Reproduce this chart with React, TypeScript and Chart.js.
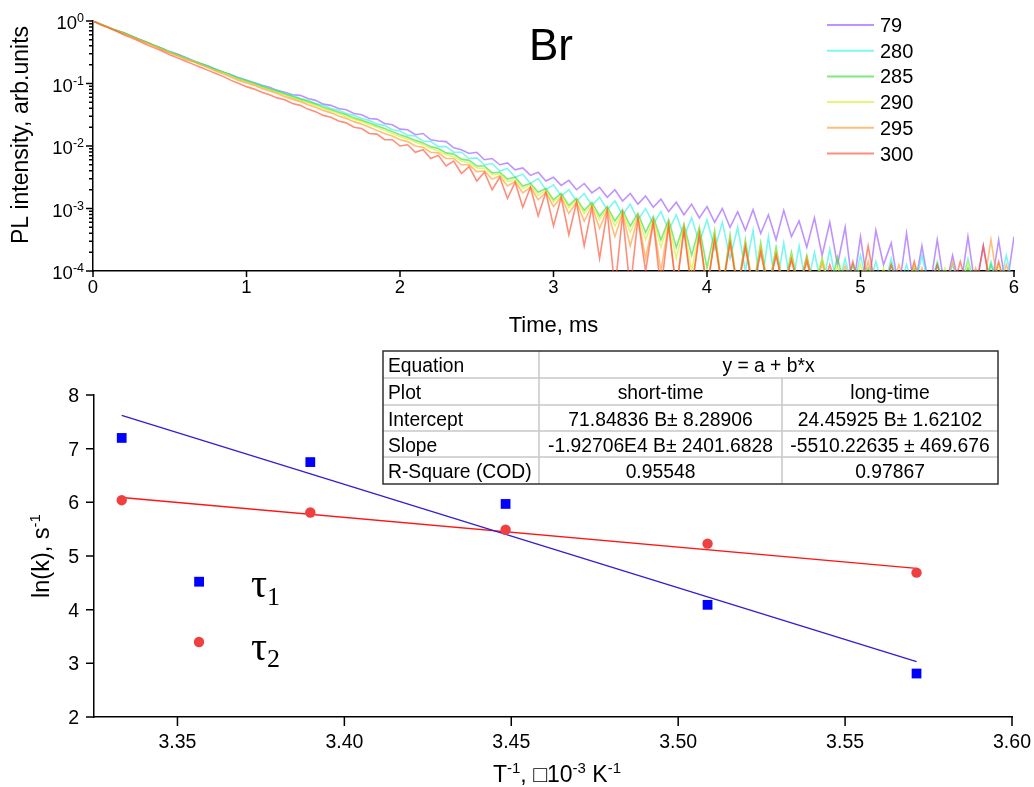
import React, { useEffect, useRef } from 'react';
import { Chart, registerables } from 'chart.js';

Chart.register(...registerables);

const SANS = '"Liberation Sans", Arial, Helvetica, sans-serif';
const SERIF = '"Liberation Serif", "Times New Roman", serif';

// ---------- top panel: PL decay (values are log10 of intensity) ----------
const timeMs = [
  0, 0.05, 0.1, 0.15, 0.2, 0.25, 0.3, 0.35, 0.4, 0.45,
  0.5, 0.55, 0.6, 0.65, 0.7, 0.75, 0.8, 0.85, 0.9, 0.95,
  1.0, 1.05, 1.1, 1.15, 1.2, 1.25, 1.3, 1.35, 1.4, 1.45,
  1.5, 1.55, 1.6, 1.65, 1.7, 1.75, 1.8, 1.85, 1.9, 1.95,
  2.0, 2.05, 2.1, 2.15, 2.2, 2.25, 2.3, 2.35, 2.4, 2.45,
  2.5, 2.55, 2.6, 2.65, 2.7, 2.75, 2.8, 2.85, 2.9, 2.95,
  3.0, 3.05, 3.1, 3.15, 3.2, 3.25, 3.3, 3.35, 3.4, 3.45,
  3.5, 3.55, 3.6, 3.65, 3.7, 3.75, 3.8, 3.85, 3.9, 3.95,
  4.0, 4.05, 4.1, 4.15, 4.2, 4.25, 4.3, 4.35, 4.4, 4.45,
  4.5, 4.55, 4.6, 4.65, 4.7, 4.75, 4.8, 4.85, 4.9, 4.95,
  5.0, 5.05, 5.1, 5.15, 5.2, 5.25, 5.3, 5.35, 5.4, 5.45,
  5.5, 5.55, 5.6, 5.65, 5.7, 5.75, 5.8, 5.85, 5.9, 5.95,
  6.0,
];

const log10PL_79 = [
  0, -0.05, -0.10, -0.15, -0.19, -0.24, -0.29, -0.34, -0.39, -0.44,
  -0.49, -0.53, -0.58, -0.63, -0.68, -0.72, -0.77, -0.82, -0.86, -0.91,
  -0.95, -0.99, -1.03, -1.06, -1.11, -1.14, -1.18, -1.19, -1.24, -1.27,
  -1.33, -1.35, -1.40, -1.42, -1.48, -1.50, -1.56, -1.57, -1.64, -1.66,
  -1.73, -1.74, -1.82, -1.80, -1.90, -1.92, -1.93, -2.03, -2.06, -2.12,
  -2.10, -2.22, -2.20, -2.30, -2.27, -2.38, -2.35, -2.47, -2.42, -2.56,
  -2.50, -2.63, -2.55, -2.70, -2.60, -2.75, -2.66, -2.82, -2.70, -2.88,
  -2.76, -2.93, -2.80, -2.98, -2.85, -3.05, -2.90, -3.10, -2.93, -3.15,
  -2.97, -3.22, -3.00, -3.30, -3.05, -3.35, -3.02, -3.40, -3.10, -3.50,
  -3.03, -3.45, -3.20, -3.62, -3.15, -3.75, -3.22, -3.90, -3.30, -4.3,
  -3.45, -4.3, -3.35, -3.90, -3.55, -4.3, -3.40, -4.3, -3.60, -4.3,
  -3.50, -4.3, -3.75, -4.3, -3.45, -4.3, -3.60, -4.3, -3.50, -4.3,
  -3.45,
];

const log10PL_280 = [
  0, -0.05, -0.10, -0.15, -0.19, -0.24, -0.29, -0.34, -0.39, -0.44,
  -0.49, -0.54, -0.58, -0.63, -0.68, -0.72, -0.77, -0.82, -0.86, -0.91,
  -0.95, -0.99, -1.03, -1.08, -1.11, -1.16, -1.19, -1.24, -1.27, -1.32,
  -1.35, -1.40, -1.43, -1.48, -1.51, -1.56, -1.59, -1.65, -1.67, -1.74,
  -1.76, -1.83, -1.84, -1.92, -1.93, -2.01, -2.01, -2.10, -2.10, -2.20,
  -2.19, -2.30, -2.28, -2.40, -2.36, -2.50, -2.45, -2.60, -2.52, -2.70,
  -2.62, -2.80, -2.70, -2.88, -2.76, -2.95, -2.82, -3.02, -2.88, -3.10,
  -2.93, -3.18, -3.00, -3.25, -3.05, -3.35, -3.10, -3.45, -3.15, -3.55,
  -3.18, -3.65, -3.22, -3.80, -3.30, -4.0, -3.35, -4.3, -3.45, -4.3,
  -3.55, -4.3, -3.60, -4.3, -3.70, -4.3, -3.65, -4.3, -3.80, -4.3,
  -3.75, -4.3, -3.85, -4.3, -3.80, -4.3, -3.90, -4.3, -3.75, -4.3,
  -3.85, -4.3, -3.90, -4.3, -3.80, -4.3, -4.3, -3.85, -4.3, -3.75,
  -4.3,
];

const log10PL_285 = [
  0, -0.05, -0.10, -0.15, -0.19, -0.24, -0.29, -0.34, -0.39, -0.44,
  -0.50, -0.54, -0.59, -0.64, -0.68, -0.73, -0.78, -0.82, -0.87, -0.92,
  -0.96, -1.00, -1.05, -1.09, -1.13, -1.17, -1.21, -1.25, -1.29, -1.33,
  -1.38, -1.42, -1.46, -1.50, -1.55, -1.59, -1.63, -1.68, -1.72, -1.77,
  -1.82, -1.86, -1.91, -1.95, -2.01, -2.04, -2.11, -2.13, -2.21, -2.23,
  -2.32, -2.32, -2.43, -2.42, -2.53, -2.50, -2.64, -2.60, -2.74, -2.68,
  -2.86, -2.76, -2.95, -2.84, -3.03, -2.90, -3.12, -2.97, -3.20, -3.02,
  -3.28, -3.08, -3.38, -3.13, -3.50, -3.18, -3.62, -3.25, -3.75, -3.30,
  -3.95, -3.35, -4.3, -3.42, -4.3, -3.50, -4.3, -3.55, -4.3, -3.62,
  -4.3, -3.70, -4.3, -3.75, -4.3, -3.80, -4.3, -3.78, -4.3, -3.90,
  -4.3, -3.95, -4.3, -4.3, -3.90, -4.3, -4.3, -3.95, -4.3, -4.3,
  -3.90, -4.3, -4.3, -4.3, -3.95, -4.3, -4.3, -3.90, -4.3, -4.3,
  -4.3,
];

const log10PL_290 = [
  0, -0.05, -0.10, -0.15, -0.20, -0.25, -0.30, -0.35, -0.40, -0.45,
  -0.50, -0.55, -0.60, -0.64, -0.69, -0.74, -0.79, -0.83, -0.88, -0.93,
  -0.97, -1.01, -1.06, -1.10, -1.14, -1.18, -1.23, -1.27, -1.31, -1.35,
  -1.40, -1.44, -1.48, -1.53, -1.57, -1.61, -1.66, -1.70, -1.75, -1.80,
  -1.85, -1.89, -1.94, -1.98, -2.04, -2.08, -2.14, -2.17, -2.24, -2.27,
  -2.35, -2.36, -2.46, -2.45, -2.57, -2.54, -2.68, -2.63, -2.79, -2.71,
  -2.90, -2.79, -2.99, -2.86, -3.08, -2.93, -3.18, -3.00, -3.28, -3.06,
  -3.38, -3.12, -3.50, -3.17, -3.62, -3.22, -3.80, -3.28, -4.0, -3.34,
  -4.3, -3.40, -4.3, -3.48, -4.3, -3.55, -4.3, -3.60, -4.3, -3.68,
  -4.3, -3.75, -4.3, -3.82, -4.3, -3.80, -4.3, -3.92, -4.3, -4.3,
  -3.90, -4.3, -4.3, -3.95, -4.3, -4.3, -4.3, -3.90, -4.3, -4.3,
  -4.3, -3.95, -4.3, -4.3, -3.85, -4.3, -4.3, -4.3, -3.90, -4.3,
  -4.3,
];

const log10PL_295 = [
  0, -0.05, -0.10, -0.15, -0.20, -0.25, -0.30, -0.35, -0.40, -0.46,
  -0.51, -0.56, -0.61, -0.65, -0.70, -0.75, -0.80, -0.85, -0.90, -0.95,
  -0.99, -1.03, -1.08, -1.12, -1.16, -1.21, -1.25, -1.29, -1.34, -1.38,
  -1.43, -1.47, -1.52, -1.56, -1.61, -1.65, -1.70, -1.75, -1.80, -1.84,
  -1.90, -1.93, -2.00, -2.02, -2.10, -2.11, -2.20, -2.20, -2.30, -2.30,
  -2.41, -2.40, -2.53, -2.48, -2.64, -2.57, -2.75, -2.66, -2.86, -2.74,
  -2.97, -2.82, -3.08, -2.90, -3.20, -2.96, -3.32, -3.02, -3.45, -3.08,
  -3.60, -3.14, -3.80, -3.20, -4.0, -3.25, -4.3, -3.30, -4.3, -3.38,
  -4.3, -3.45, -4.3, -3.52, -4.3, -3.58, -4.3, -3.65, -4.3, -3.72,
  -4.3, -3.80, -4.3, -3.78, -4.3, -3.88, -4.3, -4.3, -3.92, -4.3,
  -4.3, -3.85, -4.3, -4.3, -4.3, -3.90, -4.3, -4.3, -3.95, -4.3,
  -4.3, -4.3, -3.85, -4.3, -4.3, -3.95, -4.3, -3.50, -4.3, -3.90,
  -4.3,
];

const log10PL_300 = [
  0, -0.06, -0.11, -0.16, -0.22, -0.27, -0.32, -0.38, -0.43, -0.48,
  -0.54, -0.59, -0.64, -0.69, -0.74, -0.79, -0.84, -0.89, -0.95, -1.00,
  -1.05, -1.09, -1.14, -1.18, -1.23, -1.26, -1.32, -1.35, -1.41, -1.45,
  -1.51, -1.54, -1.60, -1.63, -1.70, -1.72, -1.80, -1.81, -1.90, -1.90,
  -2.00, -1.98, -2.10, -2.06, -2.20, -2.15, -2.32, -2.24, -2.44, -2.33,
  -2.56, -2.42, -2.70, -2.50, -2.84, -2.58, -2.98, -2.66, -3.12, -2.74,
  -3.28, -2.82, -3.42, -2.90, -3.60, -2.98, -3.80, -3.04, -4.3, -3.10,
  -4.3, -3.16, -4.0, -3.22, -4.3, -3.28, -4.3, -3.35, -4.3, -3.42,
  -4.3, -3.50, -4.3, -3.55, -4.3, -3.62, -4.3, -3.70, -4.3, -3.75,
  -4.3, -3.82, -4.3, -3.85, -4.3, -4.3, -3.90, -4.3, -4.3, -3.85,
  -4.3, -3.60, -4.3, -4.3, -3.90, -4.3, -4.3, -3.85, -4.3, -4.3,
  -3.90, -4.3, -4.3, -3.85, -4.3, -4.3, -3.60, -4.3, -3.85, -4.3,
  -4.3,
];

const seriesNames = ['79', '280', '285', '290', '295', '300'];
const seriesLogValues = [log10PL_79, log10PL_280, log10PL_285, log10PL_290, log10PL_295, log10PL_300];
const seriesColors = [
  'rgba(150,80,255,0.62)',
  'rgba(40,240,230,0.6)',
  'rgba(40,220,40,0.6)',
  'rgba(210,240,30,0.6)',
  'rgba(255,150,40,0.62)',
  'rgba(255,80,50,0.65)',
];

const topXTicks = [0, 1, 2, 3, 4, 5, 6];
const topYExponents = [0, -1, -2, -3, -4];

// ---------- bottom panel: Arrhenius plot ----------
const invT = [3.3333, 3.3898, 3.4483, 3.5088, 3.5714];
const lnK_tau1 = [7.20, 6.75, 5.97, 4.09, 2.81];
const lnK_tau2 = [6.04, 5.81, 5.49, 5.23, 4.69];
const fitInvT = [3.3333, 3.5714];
const fitShortTime = [7.62, 3.03];
const fitLongTime = [6.09, 4.77];
const bottomXTicks = [3.35, 3.40, 3.45, 3.50, 3.55, 3.60];
const bottomYTicks = [2, 3, 4, 5, 6, 7, 8];

const tableRows = [
  ['Equation', 'y = a + b*x'],
  ['Plot', 'short-time', 'long-time'],
  ['Intercept', '71.84836 B\u00b1 8.28906', '24.45925 B\u00b1 1.62102'],
  ['Slope', '-1.92706E4 B\u00b1 2401.6828', '-5510.22635 \u00b1 469.676'],
  ['R-Square (COD)', '0.95548', '0.97867'],
];

type Seg = { t: string; size: number; dy?: number; fam?: string };

function drawSegs(ctx: CanvasRenderingContext2D, segs: Seg[], x: number, y: number, align: 'left' | 'center' | 'right') {
  let w = 0;
  const widths = segs.map((s) => {
    ctx.font = `${s.size}px ${s.fam ?? SANS}`;
    const m = ctx.measureText(s.t).width;
    w += m;
    return m;
  });
  let cx = align === 'left' ? x : align === 'right' ? x - w : x - w / 2;
  ctx.textAlign = 'left';
  ctx.textBaseline = 'alphabetic';
  segs.forEach((s, i) => {
    ctx.font = `${s.size}px ${s.fam ?? SANS}`;
    ctx.fillText(s.t, cx, y + (s.dy ?? 0));
    cx += widths[i];
  });
}

function drawRotated(ctx: CanvasRenderingContext2D, segs: Seg[], cx: number, cy: number, baseOff: number) {
  ctx.save();
  ctx.translate(cx, cy);
  ctx.rotate(-Math.PI / 2);
  drawSegs(ctx, segs, 0, baseOff, 'center');
  ctx.restore();
}

const topDecor = {
  id: 'topDecor',
  afterDraw(chart: any) {
    const { ctx, chartArea: ca } = chart;
    const xs = chart.scales.x;
    const ys = chart.scales.y;
    ctx.save();
    ctx.strokeStyle = '#000';
    ctx.fillStyle = '#000';
    ctx.lineWidth = 1.5;
    ctx.beginPath();
    topYExponents.forEach((e) => {
      const py = ys.getPixelForValue(Math.pow(10, e));
      ctx.moveTo(ca.left - 7, py);
      ctx.lineTo(ca.left, py);
    });
    for (let e = -4; e < 0; e++) {
      for (let k = 2; k <= 9; k++) {
        const py = ys.getPixelForValue(k * Math.pow(10, e));
        ctx.moveTo(ca.left - 4, py);
        ctx.lineTo(ca.left, py);
      }
    }
    topXTicks.forEach((t) => {
      const px = xs.getPixelForValue(t);
      ctx.moveTo(px, ca.bottom);
      ctx.lineTo(px, ca.bottom + 6);
    });
    ctx.stroke();

    topYExponents.forEach((e) => {
      const py = ys.getPixelForValue(Math.pow(10, e));
      drawSegs(ctx, [{ t: '10', size: 18.5 }, { t: String(e), size: 12.5, dy: -7 }], ca.left - 9, py + 8, 'right');
    });
    topXTicks.forEach((t) => {
      drawSegs(ctx, [{ t: String(t), size: 18.5 }], xs.getPixelForValue(t), ca.bottom + 22, 'center');
    });

    drawSegs(ctx, [{ t: 'Time, ms', size: 22 }], (ca.left + ca.right) / 2, 332, 'center');
    drawRotated(ctx, [{ t: 'PL intensity, arb.units', size: 23 }], 20, 135, 8);
    drawSegs(ctx, [{ t: 'Br', size: 44 }], 551, 60, 'center');

    seriesNames.forEach((n, i) => {
      const y = 25 + i * 25.7;
      ctx.strokeStyle = seriesColors[i];
      ctx.lineWidth = 2;
      ctx.beginPath();
      ctx.moveTo(827, y);
      ctx.lineTo(874, y);
      ctx.stroke();
      ctx.fillStyle = '#000';
      drawSegs(ctx, [{ t: n, size: 20 }], 880, y + 7, 'left');
    });
    ctx.restore();
  },
};

const bottomDecor = {
  id: 'bottomDecor',
  afterDraw(chart: any) {
    const { ctx, chartArea: ca } = chart;
    const xs = chart.scales.x;
    const ys = chart.scales.y;
    ctx.save();
    ctx.strokeStyle = '#000';
    ctx.fillStyle = '#000';
    ctx.lineWidth = 1.5;
    ctx.beginPath();
    bottomYTicks.forEach((v) => {
      const py = ys.getPixelForValue(v);
      ctx.moveTo(ca.left - 8, py);
      ctx.lineTo(ca.left, py);
    });
    bottomXTicks.forEach((v) => {
      const px = xs.getPixelForValue(v);
      ctx.moveTo(px, ca.bottom);
      ctx.lineTo(px, ca.bottom + 9);
    });
    ctx.stroke();

    bottomYTicks.forEach((v) => {
      drawSegs(ctx, [{ t: String(v), size: 19.5 }], ca.left - 15, ys.getPixelForValue(v) + 7, 'right');
    });
    bottomXTicks.forEach((v) => {
      drawSegs(ctx, [{ t: v.toFixed(2), size: 19.5 }], xs.getPixelForValue(v), 408, 'center');
    });

    drawSegs(
      ctx,
      [
        { t: 'T', size: 23 },
        { t: '-1', size: 15, dy: -9 },
        { t: ', \u25a110', size: 23 },
        { t: '-3', size: 15, dy: -9 },
        { t: ' K', size: 23 },
        { t: '-1', size: 15, dy: -9 },
      ],
      557,
      442,
      'center'
    );
    drawRotated(ctx, [{ t: 'ln(k), s', size: 23.5 }, { t: '-1', size: 15, dy: -9 }], 40, 216, 8.5);

    // legend
    ctx.fillStyle = 'rgb(0,0,255)';
    ctx.fillRect(194.2, 236.8, 9.8, 9.8);
    ctx.fillStyle = 'rgb(238,64,64)';
    ctx.beginPath();
    ctx.arc(199, 302, 5.2, 0, Math.PI * 2);
    ctx.fill();
    ctx.fillStyle = '#000';
    drawSegs(ctx, [{ t: '\u03c4', size: 40, fam: SERIF }, { t: '1', size: 26, dy: 8, fam: SERIF }], 251, 257, 'left');
    drawSegs(ctx, [{ t: '\u03c4', size: 40, fam: SERIF }, { t: '2', size: 26, dy: 7, fam: SERIF }], 251, 320, 'left');

    // results table
    const cols = [383, 539, 782, 998];
    const rows = [11, 38, 65, 91, 117, 144];
    ctx.fillStyle = '#fff';
    ctx.fillRect(cols[0], rows[0], cols[3] - cols[0], rows[5] - rows[0]);
    ctx.strokeStyle = '#c8c8c8';
    ctx.lineWidth = 1.5;
    ctx.beginPath();
    for (let r = 1; r < 5; r++) {
      ctx.moveTo(cols[0], rows[r]);
      ctx.lineTo(cols[3], rows[r]);
    }
    ctx.moveTo(cols[1], rows[0]);
    ctx.lineTo(cols[1], rows[5]);
    ctx.moveTo(cols[2], rows[1]);
    ctx.lineTo(cols[2], rows[5]);
    ctx.stroke();
    ctx.strokeStyle = '#303030';
    ctx.strokeRect(cols[0], rows[0], cols[3] - cols[0], rows[5] - rows[0]);
    ctx.fillStyle = '#000';
    tableRows.forEach((row, r) => {
      const by = rows[r] + 20.5;
      drawSegs(ctx, [{ t: row[0], size: 19.3 }], cols[0] + 5, by, 'left');
      if (row.length === 2) {
        drawSegs(ctx, [{ t: row[1], size: 19.3 }], (cols[1] + cols[3]) / 2, by, 'center');
      } else {
        drawSegs(ctx, [{ t: row[1], size: 19.3 }], (cols[1] + cols[2]) / 2, by, 'center');
        drawSegs(ctx, [{ t: row[2], size: 19.3 }], (cols[2] + cols[3]) / 2, by, 'center');
      }
    });
    ctx.restore();
  },
};

export default function App() {
  const topRef = useRef<HTMLCanvasElement>(null);
  const botRef = useRef<HTMLCanvasElement>(null);

  useEffect(() => {
    const topDatasets = seriesNames.map((name, i) => ({
      label: name,
      data: seriesLogValues[i].map((v, j) => ({ x: timeMs[j], y: Math.pow(10, v) })),
      borderColor: seriesColors[i],
      borderWidth: 1.6,
      pointRadius: 0,
      tension: 0,
      fill: false,
      order: 6 - i,
    }));

    const top = new Chart(topRef.current as HTMLCanvasElement, {
      type: 'line',
      data: { datasets: topDatasets as any },
      options: {
        responsive: false,
        animation: false,
        devicePixelRatio: 1,
        layout: { padding: { left: 0, top: 21, right: 20, bottom: 0 } },
        plugins: { legend: { display: false }, tooltip: { enabled: false }, title: { display: false } },
        events: [],
        scales: {
          x: {
            type: 'linear',
            min: 0,
            max: 6,
            grid: { display: false },
            border: { display: true, color: '#000', width: 1.5 },
            ticks: { display: false },
            afterFit: (s: any) => { s.height = 69; },
          },
          y: {
            type: 'logarithmic',
            min: 1e-4,
            max: 1,
            grid: { display: false },
            border: { display: true, color: '#000', width: 1.5 },
            ticks: { display: false },
            afterFit: (s: any) => { s.width = 93; },
          },
        },
      } as any,
      plugins: [topDecor],
    });

    const bottom = new Chart(botRef.current as HTMLCanvasElement, {
      type: 'scatter',
      data: {
        datasets: [
          {
            label: 'tau1',
            data: invT.map((x, i) => ({ x, y: lnK_tau1[i] })),
            pointStyle: 'rect',
            pointRadius: 6.9,
            backgroundColor: 'rgb(0,0,255)',
            borderColor: 'rgb(0,0,255)',
            borderWidth: 0,
            order: 1,
          },
          {
            label: 'tau2',
            data: invT.map((x, i) => ({ x, y: lnK_tau2[i] })),
            pointStyle: 'circle',
            pointRadius: 5.2,
            backgroundColor: 'rgb(238,64,64)',
            borderColor: 'rgb(238,64,64)',
            borderWidth: 0,
            order: 2,
          },
          {
            label: 'short-time fit',
            data: fitInvT.map((x, i) => ({ x, y: fitShortTime[i] })),
            showLine: true,
            pointRadius: 0,
            borderColor: 'rgb(50,30,210)',
            borderWidth: 1.3,
            order: 3,
          },
          {
            label: 'long-time fit',
            data: fitInvT.map((x, i) => ({ x, y: fitLongTime[i] })),
            showLine: true,
            pointRadius: 0,
            borderColor: 'rgb(255,20,20)',
            borderWidth: 1.3,
            order: 4,
          },
        ] as any,
      },
      options: {
        responsive: false,
        animation: false,
        devicePixelRatio: 1,
        layout: { padding: { left: 0, top: 55, right: 22, bottom: 0 } },
        plugins: { legend: { display: false }, tooltip: { enabled: false }, title: { display: false } },
        events: [],
        scales: {
          x: {
            type: 'linear',
            min: 3.325,
            max: 3.6,
            grid: { display: false },
            border: { display: true, color: '#000', width: 1.5 },
            ticks: { display: false },
            afterFit: (s: any) => { s.height = 70; },
          },
          y: {
            type: 'linear',
            min: 2,
            max: 8,
            grid: { display: false },
            border: { display: true, color: '#000', width: 1.5 },
            ticks: { display: false },
            afterFit: (s: any) => { s.width = 94; },
          },
        },
      } as any,
      plugins: [bottomDecor],
    });

    return () => {
      top.destroy();
      bottom.destroy();
    };
  }, []);

  return (
    <div style={{ position: 'absolute', left: 0, top: 0, width: 1034, height: 787, background: '#fff' }}>
      <canvas ref={topRef} width={1034} height={340} style={{ position: 'absolute', left: 0, top: 0, display: 'block' }} />
      <canvas ref={botRef} width={1034} height={447} style={{ position: 'absolute', left: 0, top: 340, display: 'block' }} />
    </div>
  );
}
